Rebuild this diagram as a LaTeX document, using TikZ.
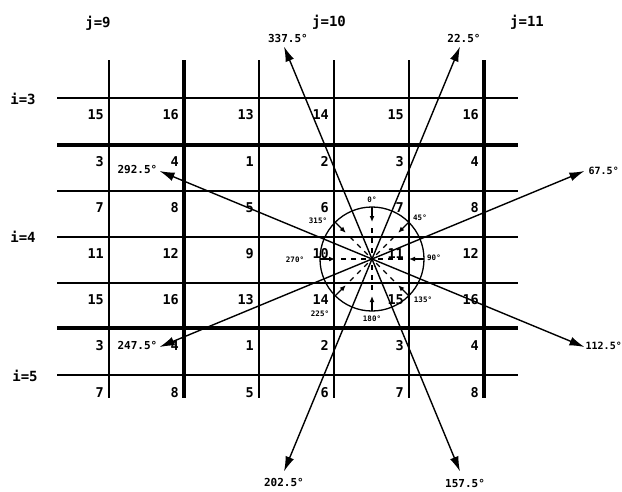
\documentclass[tikz,border=0pt]{standalone}
\usepackage{fontspec}
\setmonofont{DejaVu Sans Mono}
\usetikzlibrary{arrows.meta}

\tikzset{
  gridline/.style={line width=1.7pt},
  heavyline/.style={line width=4pt},
  cellnum/.style={font=\ttfamily\bfseries\fontsize{13.5}{13.5}\selectfont, anchor=base east, inner sep=0pt},
  indexlbl/.style={font=\ttfamily\bfseries\fontsize{14}{14}\selectfont, inner sep=0pt},
  dirlbl/.style={font=\ttfamily\bfseries\fontsize{11}{11}\selectfont, inner sep=1pt},
  anglbl/.style={font=\ttfamily\bfseries\fontsize{7.5}{7.5}\selectfont, inner sep=0pt},
  ray/.style={line width=1.4pt, -{Latex[length=15pt,width=9pt]}},
  inray/.style={line width=1.2pt, -{Latex[length=6pt,width=5pt]}},
  radius line/.style={line width=1.2pt, dash pattern=on 5pt off 5pt},
}

\begin{document}
\begin{tikzpicture}[x=1pt,y=-1pt]
    \useasboundingbox (0,0) rectangle (622,491);

    % grid
    \foreach \y in {98,191,237,283,375} \draw[gridline] (57,\y) -- (518,\y);
    \foreach \y in {145,328} \draw[heavyline] (57,\y) -- (518,\y);
    \foreach \x in {109,259,334,409} \draw[gridline] (\x,60) -- (\x,398);
    \foreach \x in {184,484} \draw[heavyline] (\x,60) -- (\x,398);

    % cell numbers
    \foreach \y/\b [count=\r] in {119/12,166/0,212/4,258/8,304/12,350/0,397/4}
      \foreach \x/\k [count=\c] in {109/3,184/4,259/1,334/2,409/3,484/4}
        \node[cellnum] (n\r\c) at (\x-5,\y) {\the\numexpr\b+\k\relax};

    % indices
    \node[indexlbl] (j9) at (98,23) {j=9};
    \node[indexlbl] (j10) at (329,22) {j=10};
    \node[indexlbl] (j11) at (527,22) {j=11};
    \node[indexlbl] (i3) at (23,99) {i=3};
    \node[indexlbl] (i4) at (23,237) {i=4};
    \node[indexlbl] (i5) at (25,376) {i=5};

    % compass
    \coordinate (c) at (372,259);
    \draw[line width=1.3pt] (c) circle[radius=52];
    \foreach \a in {0,45,...,315} {
      \draw[radius line] ([shift={(\a-90:6)}]c) -- ([shift={(\a-90:34)}]c);
      \draw[inray] ([shift={(\a-90:52)}]c) -- ([shift={(\a-90:37)}]c);
    }
    \node[anglbl] (g0) at (372,200) {0°};
    \node[anglbl] (g45) at (420,218) {45°};
    \node[anglbl] (g90) at (434,258) {90°};
    \node[anglbl] (g135) at (423,300) {135°};
    \node[anglbl] (g180) at (372,319) {180°};
    \node[anglbl] (g225) at (320,314) {225°};
    \node[anglbl] (g270) at (295,260) {270°};
    \node[anglbl] (g315) at (318,221) {315°};

    % directions
    \foreach \a/\nm in {22.5/r1,67.5/r2,112.5/r3,157.5/r4,202.5/r5,247.5/r6,292.5/r7,337.5/r8} {
      \coordinate (\nm) at ([shift={(\a-90:230)}]c);
      \draw[ray] (c) -- (\nm);
    }
    \node[dirlbl, anchor=south, xshift=4pt, yshift=3pt] (l1) at (r1) {22.5°};
    \node[dirlbl, anchor=west, xshift=3pt, font=\ttfamily\bfseries\fontsize{10}{10}\selectfont] (l2) at (r2) {67.5°};
    \node[dirlbl, anchor=west, xshift=0pt, yshift=1pt, font=\ttfamily\bfseries\fontsize{10}{10}\selectfont] (l3) at (r3) {112.5°};
    \node[dirlbl, anchor=north, xshift=5pt, yshift=-7pt] (l4) at (r4) {157.5°};
    \node[dirlbl, anchor=north, yshift=-6pt] (l5) at (r5) {202.5°};
    \node[dirlbl, anchor=east, xshift=-1pt, yshift=2pt] (l6) at (r6) {247.5°};
    \node[dirlbl, anchor=east, xshift=-1pt, yshift=1pt] (l7) at (r7) {292.5°};
    \node[dirlbl, anchor=south, xshift=4pt, yshift=3pt] (l8) at (r8) {337.5°};
\end{tikzpicture}
\end{document}
